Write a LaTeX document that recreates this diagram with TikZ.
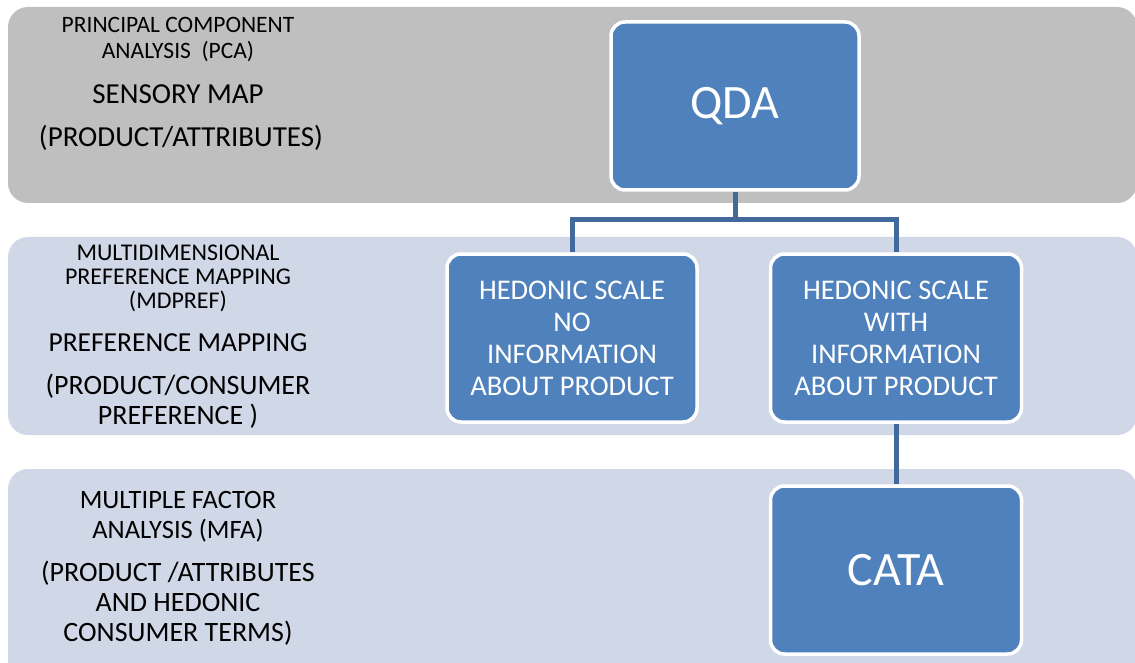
\documentclass[tikz,border=0pt]{standalone}
\usepackage{fontspec}
\setmainfont{Carlito}
\definecolor{bandgray}{HTML}{BFBFBF}
\definecolor{bandblue}{HTML}{D0D8E8}
\definecolor{boxblue}{HTML}{4F81BD}
\definecolor{linkblue}{RGB}{65,105,155}
\tikzset{
  band/.style={rounded corners=20pt},
  bluebox/.style={draw=white, line width=3.5pt, fill=boxblue, rounded corners=14pt, text=white, align=center, inner sep=0pt},
  lefttext/.style={align=center, text=black, inner sep=0pt},
  link/.style={draw=linkblue, line width=5pt}
}
\begin{document}
\begin{tikzpicture}[x=1pt,y=-1pt]
\useasboundingbox (0,0) rectangle (1135,663);
% bands
\fill[bandgray,band] (8,7) rectangle (1137,203);
\fill[bandblue,band] (8,237) rectangle (1137,435);
\fill[bandblue,band] (8,469) rectangle (1137,690);
% boxes
\node[bluebox, minimum width=248pt, minimum height=168pt, font=\fontsize{48}{50}\selectfont] (qda) at (735,106) {QDA};
\node[bluebox, minimum width=250pt, minimum height=168pt, font=\fontsize{28.5}{32}\selectfont] (h1) at (572,338) {HEDONIC SCALE\\NO\\INFORMATION\\ABOUT PRODUCT};
\node[bluebox, minimum width=251pt, minimum height=168pt, font=\fontsize{28.5}{32}\selectfont] (h2) at (896,338) {HEDONIC SCALE\\WITH\\INFORMATION\\ABOUT PRODUCT};
\node[bluebox, minimum width=251pt, minimum height=168pt, font=\fontsize{48}{50}\selectfont] (cata) at (896,570) {CATA};
% connectors
\coordinate (fork) at (735,220);
\draw[link] (qda.south) -- (fork);
\draw[link] (h1.north) |- (fork) -| (h2.north);
\draw[link] (h2.south) -- (cata.north);
% left texts
\node[lefttext, font=\fontsize{23.5}{26}\selectfont] (pca) at (178,40) {PRINCIPAL COMPONENT\\ANALYSIS\ \ (PCA)};
\node[lefttext, font=\fontsize{29}{30}\selectfont] (sens) at (178,94) {SENSORY MAP};
\node[lefttext, font=\fontsize{29}{30}\selectfont] (pa) at (181,138) {(PRODUCT/ATTRIBUTES)};
\node[lefttext, font=\fontsize{24}{24}\selectfont] (mdp) at (178,278) {MULTIDIMENSIONAL\\PREFERENCE MAPPING\\(MDPREF)};
\node[lefttext, font=\fontsize{27.5}{30}\selectfont] (pm) at (178,343) {PREFERENCE MAPPING};
\node[lefttext, font=\fontsize{28}{30}\selectfont] (pc) at (178,401) {(PRODUCT/CONSUMER\\PREFERENCE )};
\node[lefttext, font=\fontsize{26.5}{30}\selectfont] (mfa) at (178,517) {MULTIPLE FACTOR\\ANALYSIS (MFA)};
\node[lefttext, font=\fontsize{28}{30}\selectfont] (pah) at (178,603) {(PRODUCT /ATTRIBUTES\\AND HEDONIC\\CONSUMER TERMS)};
\end{tikzpicture}
\end{document}
